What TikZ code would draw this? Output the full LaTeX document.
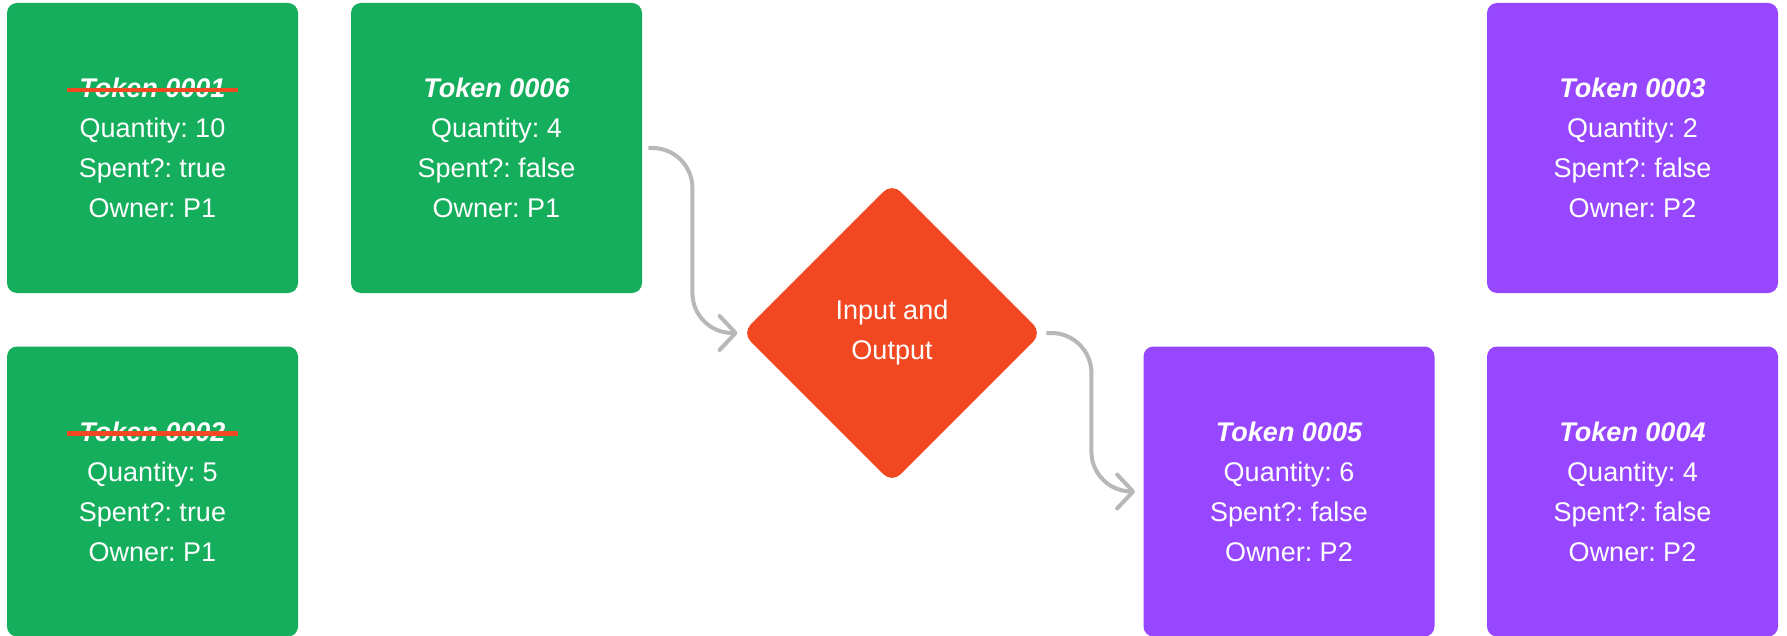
\documentclass[tikz,border=0pt]{standalone}
\usepackage{fontspec}
\setmainfont{Liberation Sans}
\usetikzlibrary{shapes.geometric,arrows.meta,positioning}
\frenchspacing

\definecolor{tokengreen}{HTML}{14AE5C}
\definecolor{tokenpurple}{HTML}{9747FF}
\definecolor{iored}{HTML}{F24822}
\definecolor{linkgray}{HTML}{B8B8B8}

%red strike through a spent token name
\newlength{\namewidth}
\newcommand{\spentname}[1]{{\bfseries\itshape\settowidth{\namewidth}{#1}#1%
  \llap{\textcolor{iored}{\rule[2.8pt]{\dimexpr\namewidth+12pt\relax}{2.2pt}}\hspace{-6pt}}}}
\newcommand{\livename}[1]{{\bfseries\itshape #1}}

\begin{document}
\begin{tikzpicture}[
  token/.style={rectangle, rounded corners=5pt, minimum width=145.5pt, minimum height=145pt,
    inner sep=0pt, text=white, align=center, font=\fontsize{13.5pt}{20pt}\selectfont},
  oldtoken/.style={token, fill=tokengreen},
  newtoken/.style={token, fill=tokenpurple},
  io/.style={diamond, aspect=1, rounded corners=6pt, minimum width=150pt, minimum height=150pt,
    inner sep=0pt, fill=iored, text=white, align=center, font=\fontsize{13.5pt}{20pt}\selectfont},
  link/.style={draw=linkgray, line width=2pt, rounded corners=20pt,
    -{Straight Barb[length=8pt,width=17pt,round]}}
]

%background and size
\fill[white] (0,0) rectangle (893.5pt,-318pt);
\useasboundingbox (0,0) rectangle (893.5pt,-318pt);

%tokens of P1
\node[oldtoken] (t1) at (76.25pt,-74pt) {\spentname{Token 0001}\\Quantity: 10\\Spent?: true\\Owner: P1};
\node[oldtoken] (t2) at (76.25pt,-245.75pt) {\spentname{Token 0002}\\Quantity: 5\\Spent?: true\\Owner: P1};
\node[oldtoken] (t6) at (248.25pt,-74pt) {\livename{Token 0006}\\Quantity: 4\\Spent?: false\\Owner: P1};

%the transaction
\node[io] (io) at (446pt,-166.5pt) {Input and\\Output};

%tokens of P2
\node[newtoken] (t5) at (644.5pt,-245.75pt) {\livename{Token 0005}\\Quantity: 6\\Spent?: false\\Owner: P2};
\node[newtoken] (t3) at (816.25pt,-74pt) {\livename{Token 0003}\\Quantity: 2\\Spent?: false\\Owner: P2};
\node[newtoken] (t4) at (816.25pt,-245.75pt) {\livename{Token 0004}\\Quantity: 4\\Spent?: false\\Owner: P2};

%draw links
\draw[link] ([xshift=3pt]t6.east) -- ++(22pt,0) |- ([xshift=-2pt]io.west);
\draw[link] ([xshift=2pt]io.east) -- ++(22.5pt,0) |- ([xshift=-4pt]t5.west);

\end{tikzpicture}
\end{document}
